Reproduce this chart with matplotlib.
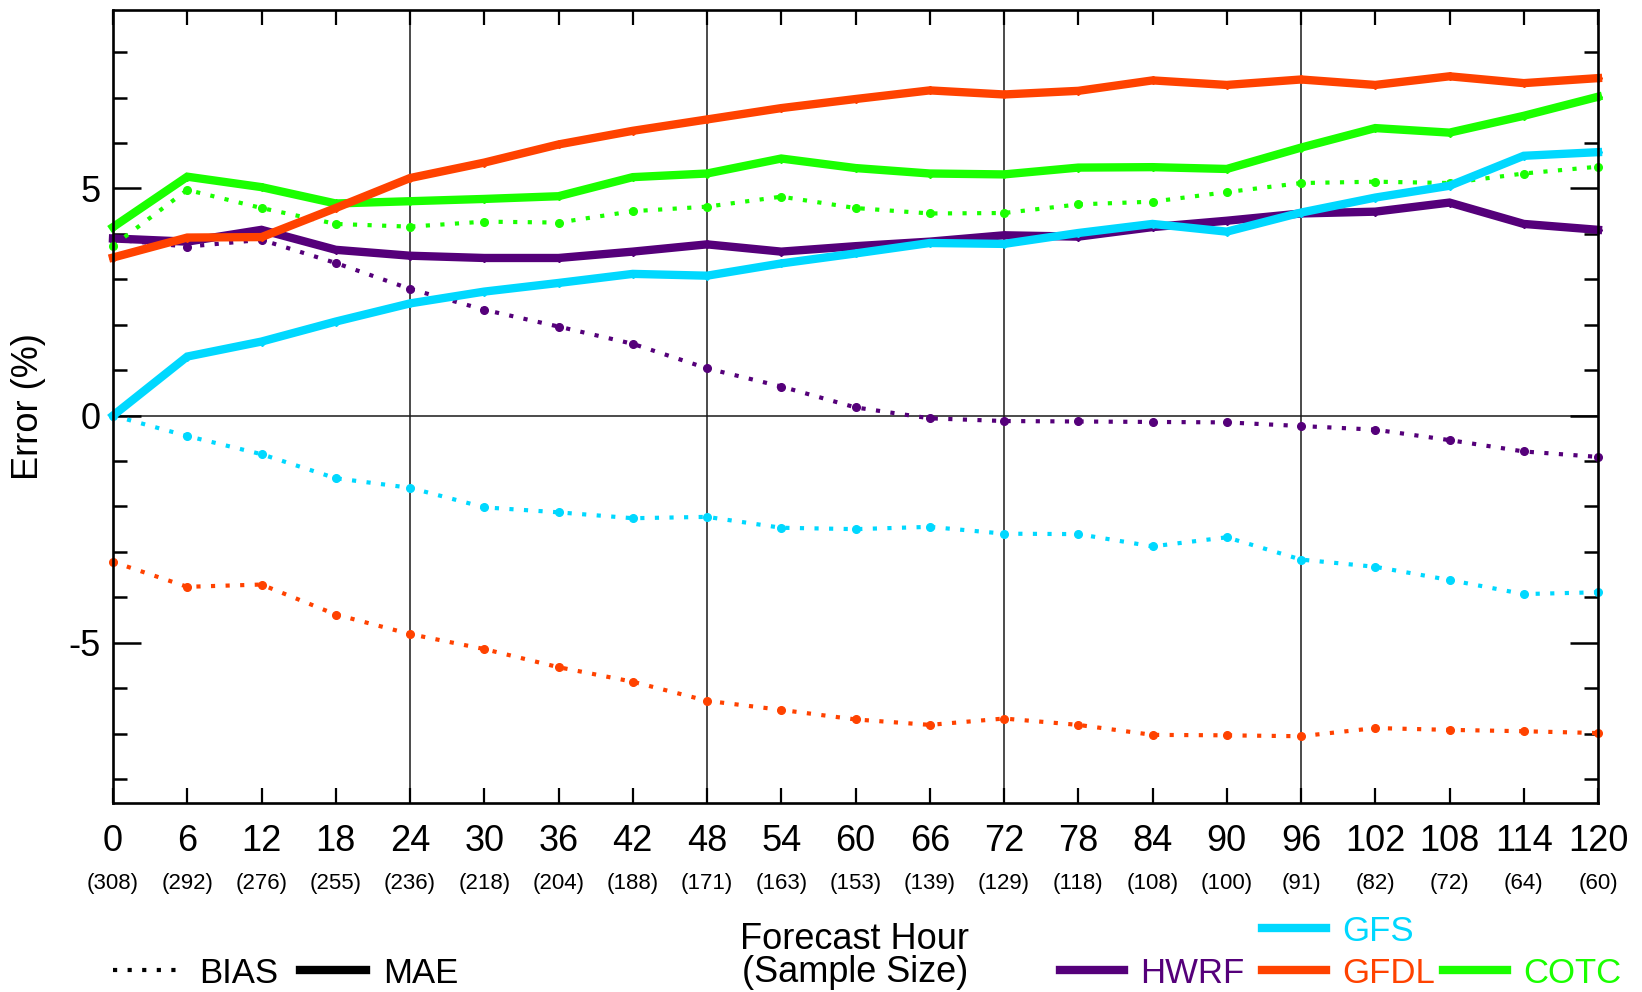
"""Intensity forecast error (MAE and bias) vs forecast hour for four models."""
import matplotlib
matplotlib.use("Agg")
import matplotlib.pyplot as plt
from matplotlib.lines import Line2D
from matplotlib.ticker import FixedLocator, MultipleLocator

HOURS = list(range(0, 121, 6))
SAMPLES = [308, 292, 276, 255, 236, 218, 204, 188, 171, 163, 153,
           139, 129, 118, 108, 100, 91, 82, 72, 64, 60]

HWRF_MAE = [3.90, 3.83, 4.09, 3.65, 3.52, 3.47, 3.47, 3.61, 3.77, 3.61, 3.73,
            3.83, 3.97, 3.94, 4.15, 4.29, 4.45, 4.49, 4.69, 4.22, 4.09]
HWRF_BIAS = [3.88, 3.72, 3.87, 3.36, 2.79, 2.33, 1.96, 1.58, 1.04, 0.64, 0.18,
             -0.06, -0.12, -0.13, -0.14, -0.15, -0.23, -0.31, -0.54, -0.79, -0.91]
GFS_MAE = [0.00, 1.30, 1.63, 2.07, 2.47, 2.73, 2.92, 3.12, 3.08, 3.35, 3.57,
           3.80, 3.78, 4.02, 4.22, 4.05, 4.47, 4.80, 5.06, 5.72, 5.80]
GFS_BIAS = [0.00, -0.45, -0.85, -1.38, -1.59, -2.02, -2.13, -2.26, -2.23, -2.47, -2.50,
            -2.45, -2.60, -2.61, -2.88, -2.68, -3.17, -3.33, -3.62, -3.93, -3.89]
GFDL_MAE = [3.48, 3.92, 3.93, 4.57, 5.23, 5.57, 5.97, 6.27, 6.52, 6.77, 6.97,
            7.16, 7.07, 7.15, 7.38, 7.28, 7.40, 7.28, 7.47, 7.32, 7.43]
GFDL_BIAS = [-3.22, -3.77, -3.72, -4.38, -4.81, -5.14, -5.54, -5.86, -6.28, -6.48, -6.69,
             -6.81, -6.67, -6.81, -7.03, -7.04, -7.06, -6.88, -6.92, -6.95, -6.99]
COTC_MAE = [4.15, 5.26, 5.03, 4.67, 4.72, 4.77, 4.83, 5.25, 5.33, 5.66, 5.45,
            5.33, 5.31, 5.46, 5.47, 5.43, 5.90, 6.33, 6.23, 6.60, 7.02]
COTC_BIAS = [3.74, 4.97, 4.57, 4.22, 4.16, 4.27, 4.25, 4.50, 4.60, 4.82, 4.57,
             4.45, 4.46, 4.65, 4.71, 4.92, 5.12, 5.15, 5.12, 5.33, 5.48]

MODELS = ["HWRF", "COTC", "GFDL", "GFS"]
SERIES = {
    "HWRF": (HWRF_BIAS, HWRF_MAE),
    "COTC": (COTC_BIAS, COTC_MAE),
    "GFDL": (GFDL_BIAS, GFDL_MAE),
    "GFS": (GFS_BIAS, GFS_MAE),
}
COLORS = {"HWRF": "#55007a", "GFS": "#00d8ff", "GFDL": "#ff4200", "COTC": "#1aff00"}

W, H = 1642, 992
DOTS = (0, (1, 2.5))


def fxy(px, py):
    """Pixel position (origin top-left) -> figure fraction."""
    return px / W, 1 - py / H


def key_line(fig, x0, x1, y, **kw):
    (a, b), (c, d) = fxy(x0, y), fxy(x1, y)
    fig.add_artist(Line2D([a, c], [b, d], transform=fig.transFigure, **kw))


def key_text(fig, x, y, s, color="black"):
    a, b = fxy(x, y)
    fig.text(a, b, s, color=color, ha="left", va="baseline", fontsize=25)


def main() -> None:
    plt.rcParams.update({
        "font.family": ["Liberation Sans", "DejaVu Sans"],
        "font.size": 26,
    })

    fig = plt.figure(figsize=(W / 100, H / 100), dpi=100)
    ax = fig.add_axes([113 / W, 1 - 803 / H, 1485 / W, 793 / H])

    for h in (24, 48, 72, 96):
        ax.axvline(h, color="#1a1a1a", lw=1.1, zorder=0.5)
    ax.axhline(0, color="#1a1a1a", lw=1.1, zorder=0.5)

    for name in MODELS:
        bias, mae = SERIES[name]
        c = COLORS[name]
        ax.plot(HOURS, bias, linestyle=DOTS, lw=3, color=c, marker="o", ms=5.5,
                dash_capstyle="butt", clip_on=False)
        ax.plot(HOURS, mae, lw=6, color=c, solid_joinstyle="miter",
                marker="D", ms=4, clip_on=False)

    ax.set_xlim(0, 120)
    ax.set_ylim(-8.53, 8.93)

    ax.xaxis.set_major_locator(FixedLocator(HOURS))
    ax.set_xticklabels([str(h) for h in HOURS])
    ax.yaxis.set_major_locator(FixedLocator([-5, 0, 5]))
    ax.yaxis.set_minor_locator(MultipleLocator(1))
    ax.set_yticklabels(["-5", "0", "5"])

    ax.tick_params(axis="x", which="major", direction="in", top=True, bottom=True,
                   length=11, width=1.6, pad=15)
    ax.tick_params(axis="y", which="major", direction="in", left=True, right=True,
                   length=20, width=1.8, pad=9)
    ax.tick_params(axis="y", which="minor", direction="in", left=True, right=True,
                   length=10, width=1.8)
    for sp in ax.spines.values():
        sp.set_linewidth(1.9)

    for h, n in zip(HOURS, SAMPLES):
        ax.text(h, -0.101, f"({n})", transform=ax.get_xaxis_transform(),
                ha="center", va="center", fontsize=16)

    ax.set_ylabel("Error (%)")
    ax.yaxis.set_label_coords(-0.045, 0.5)

    a, b = fxy(855, 956)
    fig.text(a, b, "Forecast Hour\n(Sample Size)", ha="center", va="center",
             fontsize=26, linespacing=0.9)

    # line-style key
    key_line(fig, 113, 180, 970, color="black", lw=3, linestyle=DOTS,
             dash_capstyle="butt")
    key_text(fig, 199, 983, "BIAS")
    key_line(fig, 300, 366, 970, color="black", lw=6)
    key_text(fig, 383, 983, "MAE")

    # model key
    for name, x0, y in [("GFS", 1262, 928), ("HWRF", 1060, 970),
                        ("GFDL", 1262, 970), ("COTC", 1443, 970)]:
        key_line(fig, x0, x0 + 64, y, color=COLORS[name], lw=6)
        key_text(fig, x0 + 80, y + 13, name, color=COLORS[name])

    fig.savefig("out.png", dpi=100)


if __name__ == "__main__":
    main()
